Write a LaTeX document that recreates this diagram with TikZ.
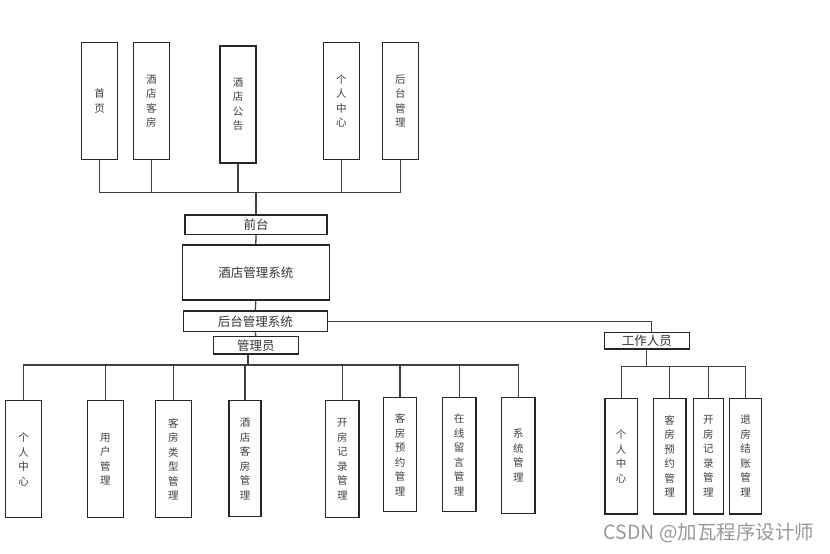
\documentclass[tikz,border=0pt]{standalone}
\usepackage{fontspec}
\setmainfont{Noto Sans CJK SC}
\usetikzlibrary{calc}

\begin{document}
\begin{tikzpicture}[x=1pt, y=-1pt,
  vbox/.style={draw=black!85, line width=1.4pt, inner sep=0pt, minimum width=36pt, minimum height=117pt,
    align=center, text=black!75, font=\fontsize{10.5}{14.5}\selectfont},
  hbox/.style={draw=black!85, line width=1.4pt, inner sep=0pt, text=black!80,
    font=\fontsize{12.5}{15}\selectfont},
  link/.style={draw=black!75, line width=1.3pt}]
\useasboundingbox (0,0) rectangle (830,554);

\node[vbox] (sy) at (99.5,101) {首\\页};
\node[vbox] (jdkf) at (151.3,101) {酒\\店\\客\\房};
\node[vbox] (jdgg) at (238,104.3) {酒\\店\\公\\告};
\node[vbox] (grzx) at (341.3,101) {个\\人\\中\\心};
\node[vbox] (htgl) at (400.3,101) {后\\台\\管\\理};

\node[hbox, minimum width=142pt, minimum height=19.3pt] (qt) at (256,224.7) {前台};
\node[hbox, minimum width=147pt, minimum height=55pt] (jdxt) at (255.8,272.5) {酒店管理系统};
\node[hbox, minimum width=144pt, minimum height=20.7pt] (htxt) at (255.3,321.3) {后台管理系统};
\node[hbox, minimum width=85pt, minimum height=17.3pt] (gly) at (255.8,345.3) {管理员};
\node[hbox, minimum width=85pt, minimum height=16.3pt] (gzry) at (646.8,340.8) {工作人员};

\node[vbox] (a1) at (23.7,459.2) {个\\人\\中\\心};
\node[vbox] (a2) at (105.3,459.2) {用\\户\\管\\理};
\node[vbox] (a3) at (173.3,459.2) {客\\房\\类\\型\\管\\理};
\node[vbox, minimum width=32pt, minimum height=116pt] (a4) at (245,458.7) {酒\\店\\客\\房\\管\\理};
\node[vbox, minimum width=33.3pt] (a5) at (342.3,459.2) {开\\房\\记\\录\\管\\理};
\node[vbox, minimum width=33.3pt, minimum height=114pt] (a6) at (400,454.7) {客\\房\\预\\约\\管\\理};
\node[vbox, minimum width=33.7pt, minimum height=114pt] (a7) at (459.2,454.7) {在\\线\\留\\言\\管\\理};
\node[vbox, minimum width=33.3pt, minimum height=115.6pt] (a8) at (518.3,455.5) {系\\统\\管\\理};

\node[vbox, minimum width=32.3pt, minimum height=115.7pt] (b1) at (621.2,456.2) {个\\人\\中\\心};
\node[vbox, minimum width=32.7pt, minimum height=115.7pt] (b2) at (669.7,456.2) {客\\房\\预\\约\\管\\理};
\node[vbox, minimum width=30pt, minimum height=115.7pt] (b3) at (708.3,456.2) {开\\房\\记\\录\\管\\理};
\node[vbox, minimum width=32.4pt, minimum height=115.7pt] (b4) at (745.5,456.2) {退\\房\\结\\账\\管\\理};

\node[text=black!40, font=\fontsize{19.5}{22}\selectfont] (wm) at (709,533) {CSDN @加瓦程序设计师};

\coordinate (topbus) at (256,192.3);
\coordinate (lbus) at (248,365);
\coordinate (rbus) at (646.8,366.7);

\draw[link] (sy.south) |- (topbus) -| (htgl.south);
\draw[link] (jdkf.south) -- (jdkf.south |- topbus);
\draw[link] (jdgg.south) -- (jdgg.south |- topbus);
\draw[link] (grzx.south) -- (grzx.south |- topbus);
\draw[link] (topbus) -- (qt.north);
\draw[link] (qt.south) -- (jdxt.north);
\draw[link] (jdxt.south) -- (htxt.north);
\draw[link] (htxt.south) -- (gly.north);
\draw[link] (htxt.east) -| ([xshift=5pt]gzry.north);

\draw[link] (a1.north) |- (lbus) -| (a8.north);
\draw[link] (lbus) -- (lbus |- gly.south);
\draw[link] (a2.north) -- (a2.north |- lbus);
\draw[link] (a3.north) -- (a3.north |- lbus);
\draw[link] (a4.north) -- (a4.north |- lbus);
\draw[link] (a5.north) -- (a5.north |- lbus);
\draw[link] (a6.north) -- (a6.north |- lbus);
\draw[link] (a7.north) -- (a7.north |- lbus);

\draw[link] (b1.north) |- (rbus) -| (b4.north);
\draw[link] (gzry.south) -- (rbus);
\draw[link] (b2.north) -- (b2.north |- rbus);
\draw[link] (b3.north) -- (b3.north |- rbus);
\end{tikzpicture}
\end{document}
